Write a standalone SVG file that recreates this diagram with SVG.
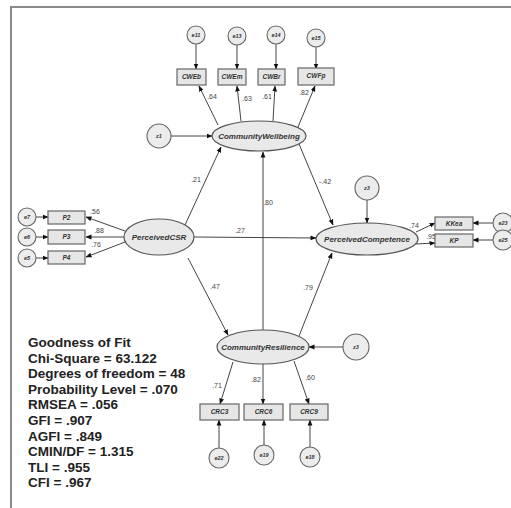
<svg xmlns="http://www.w3.org/2000/svg" width="511" height="508" viewBox="0 0 511 508">
<style>
.frame{stroke:#8a8a8a;stroke-width:2;fill:none}
.lat{fill:#e9e9e9;stroke:#555;stroke-width:1.2}
.obs{fill:#e6e6e6;stroke:#666;stroke-width:1.2}
.err{fill:#ececec;stroke:#666;stroke-width:1.1}
.c line{stroke:#444;stroke-width:1;marker-end:url(#ah)}
.ln{font-family:"Liberation Sans",Arial,sans-serif;font-weight:bold;font-style:italic;fill:#333;text-anchor:middle}
.big{font-size:8px}
.sm{font-size:6.5px}
.xs{font-size:5.5px}
.co{font-family:"Liberation Sans",Arial,sans-serif;font-size:7px;fill:#444;text-anchor:middle}
.fit{font-family:"Liberation Sans",Arial,sans-serif;font-weight:bold;font-size:13.5px;fill:#222}
</style>
<defs>
<marker id="ah" markerWidth="6" markerHeight="6" refX="5.5" refY="3" orient="auto" markerUnits="userSpaceOnUse">
<path d="M0,0.6 L6,3 L0,5.4 Z" fill="#111"/>
</marker>
</defs>
<rect width="511" height="508" fill="#fff"/>
<path class="frame" d="M11,508 V7 H511"/>

<g id="connectors" class="c">
<line x1="185" y1="225" x2="221" y2="147"/>
<line x1="263" y1="330" x2="263" y2="152"/>
<line x1="299" y1="144" x2="333" y2="225"/>
<line x1="194" y1="237" x2="316" y2="238"/>
<line x1="188" y1="258" x2="228" y2="335"/>
<line x1="299" y1="336" x2="332" y2="253"/>
<line x1="171" y1="136" x2="212" y2="136"/>
<line x1="367" y1="200" x2="367" y2="223"/>
<line x1="343" y1="347" x2="309" y2="347"/>
<line x1="218" y1="125" x2="199" y2="86"/>
<line x1="241" y1="121" x2="237" y2="86"/>
<line x1="273" y1="121" x2="275" y2="86"/>
<line x1="298" y1="127" x2="315" y2="86"/>
<line x1="196" y1="44" x2="196" y2="69"/>
<line x1="237" y1="45" x2="237" y2="69"/>
<line x1="276" y1="44" x2="276" y2="69"/>
<line x1="316" y1="47" x2="316" y2="69"/>
<line x1="125" y1="231" x2="86" y2="217"/>
<line x1="124" y1="237" x2="86" y2="237"/>
<line x1="125" y1="242" x2="86" y2="257"/>
<line x1="36" y1="217" x2="48" y2="217"/>
<line x1="36" y1="237" x2="48" y2="237"/>
<line x1="36" y1="258" x2="48" y2="258"/>
<line x1="416" y1="232" x2="435" y2="223"/>
<line x1="416" y1="244" x2="435" y2="243"/>
<line x1="493" y1="223" x2="473" y2="223"/>
<line x1="493" y1="240" x2="473" y2="240"/>
<line x1="233" y1="362" x2="220" y2="404"/>
<line x1="263" y1="364" x2="263" y2="404"/>
<line x1="294" y1="361" x2="309" y2="404"/>
<line x1="219" y1="448" x2="219" y2="420"/>
<line x1="264" y1="445" x2="264" y2="420"/>
<line x1="310" y1="447" x2="310" y2="420"/>
</g>

<g id="coefficients">
<text class="co" x="212" y="99">.64</text>
<text class="co" x="247" y="101">.63</text>
<text class="co" x="267" y="99">.61</text>
<text class="co" x="304" y="95">.82</text>
<text class="co" x="196" y="182">.21</text>
<text class="co" x="268" y="205">.80</text>
<text class="co" x="325" y="184">-.42</text>
<text class="co" x="240" y="233">.27</text>
<text class="co" x="215" y="289">.47</text>
<text class="co" x="308" y="290">.79</text>
<text class="co" x="95" y="214">.56</text>
<text class="co" x="99" y="233">.88</text>
<text class="co" x="96" y="247">.76</text>
<text class="co" x="414" y="228">.74</text>
<text class="co" x="431" y="239">.95</text>
<text class="co" x="217" y="388">.71</text>
<text class="co" x="256" y="382">.82</text>
<text class="co" x="310" y="380">.60</text>
</g>

<g id="CommunityWellbeing"><ellipse class="lat" cx="259" cy="136" rx="47" ry="15"/><text class="ln big" x="259" y="139">CommunityWellbeing</text></g>
<g id="PerceivedCSR"><ellipse class="lat" cx="159" cy="237" rx="35" ry="18"/><text class="ln big" x="159" y="240">PerceivedCSR</text></g>
<g id="PerceivedCompetence"><ellipse class="lat" cx="367" cy="239" rx="51" ry="16"/><text class="ln big" x="367" y="242">PerceivedCompetence</text></g>
<g id="CommunityResilience"><ellipse class="lat" cx="263" cy="347" rx="46" ry="17"/><text class="ln big" x="263" y="350">CommunityResilience</text></g>

<g id="CWEb"><rect class="obs" x="177" y="69" width="29" height="16"/><text class="ln sm" x="191.5" y="79">CWEb</text></g>
<g id="CWEm"><rect class="obs" x="218" y="69" width="28" height="16"/><text class="ln sm" x="232" y="79">CWEm</text></g>
<g id="CWBr"><rect class="obs" x="258" y="69" width="27" height="16"/><text class="ln sm" x="271.5" y="79">CWBr</text></g>
<g id="CWFp"><rect class="obs" x="298" y="68" width="36" height="17"/><text class="ln sm" x="316" y="78">CWFp</text></g>
<g id="P2"><rect class="obs" x="48" y="211" width="37" height="13"/><text class="ln sm" x="66.5" y="219.5">P2</text></g>
<g id="P3"><rect class="obs" x="48" y="230" width="37" height="14"/><text class="ln sm" x="66.5" y="239">P3</text></g>
<g id="P4"><rect class="obs" x="48" y="251" width="37" height="13"/><text class="ln sm" x="66.5" y="259.5">P4</text></g>
<g id="KKea"><rect class="obs" x="435" y="217" width="38" height="13"/><text class="ln sm" x="454" y="225.5">KKea</text></g>
<g id="KP"><rect class="obs" x="435" y="234" width="38" height="13"/><text class="ln sm" x="454" y="242.5">KP</text></g>
<g id="CRC3"><rect class="obs" x="200" y="404" width="39" height="16"/><text class="ln sm" x="219.5" y="414">CRC3</text></g>
<g id="CRC6"><rect class="obs" x="244" y="404" width="39" height="16"/><text class="ln sm" x="263.5" y="414">CRC6</text></g>
<g id="CRC9"><rect class="obs" x="290" y="404" width="38" height="16"/><text class="ln sm" x="309" y="414">CRC9</text></g>

<g id="e11"><circle class="err" cx="196" cy="35" r="9"/><text class="ln xs" x="196" y="37">e11</text></g>
<g id="e13"><circle class="err" cx="237" cy="36" r="9"/><text class="ln xs" x="237" y="38">e13</text></g>
<g id="e14"><circle class="err" cx="276" cy="35" r="9"/><text class="ln xs" x="276" y="37">e14</text></g>
<g id="e15"><circle class="err" cx="316" cy="38" r="9"/><text class="ln xs" x="316" y="40">e15</text></g>
<g id="e7"><circle class="err" cx="27" cy="217" r="9"/><text class="ln xs" x="27" y="219">e7</text></g>
<g id="e6"><circle class="err" cx="27" cy="237" r="9"/><text class="ln xs" x="27" y="239">e6</text></g>
<g id="e5"><circle class="err" cx="27" cy="258" r="9"/><text class="ln xs" x="27" y="260">e5</text></g>
<g id="e23"><circle class="err" cx="503" cy="223" r="10"/><text class="ln xs" x="503" y="225">e23</text></g>
<g id="e25"><circle class="err" cx="503" cy="240" r="10"/><text class="ln xs" x="503" y="242">e25</text></g>
<g id="e22"><circle class="err" cx="219" cy="458" r="10"/><text class="ln xs" x="219" y="460">e22</text></g>
<g id="e19"><circle class="err" cx="264" cy="455" r="10"/><text class="ln xs" x="264" y="457">e19</text></g>
<g id="e18"><circle class="err" cx="310" cy="457" r="10"/><text class="ln xs" x="310" y="459">e18</text></g>
<g id="z1"><circle class="err" cx="159" cy="136" r="12"/><text class="ln xs" x="159" y="138">z1</text></g>
<g id="z3top"><circle class="err" cx="367" cy="188" r="12"/><text class="ln xs" x="367" y="190">z3</text></g>
<g id="z3right"><circle class="err" cx="356" cy="347" r="13"/><text class="ln xs" x="356" y="349">z3</text></g>

<g id="fit">
<text class="fit" x="28" y="347">Goodness of Fit</text>
<text class="fit" x="28" y="362.6">Chi-Square = 63.122</text>
<text class="fit" x="28" y="378.2">Degrees of freedom = 48</text>
<text class="fit" x="28" y="393.8">Probability Level = .070</text>
<text class="fit" x="28" y="409.4">RMSEA = .056</text>
<text class="fit" x="28" y="425">GFI = .907</text>
<text class="fit" x="28" y="440.6">AGFI = .849</text>
<text class="fit" x="28" y="456.2">CMIN/DF = 1.315</text>
<text class="fit" x="28" y="471.8">TLI = .955</text>
<text class="fit" x="28" y="487.4">CFI = .967</text>
</g>
</svg>
